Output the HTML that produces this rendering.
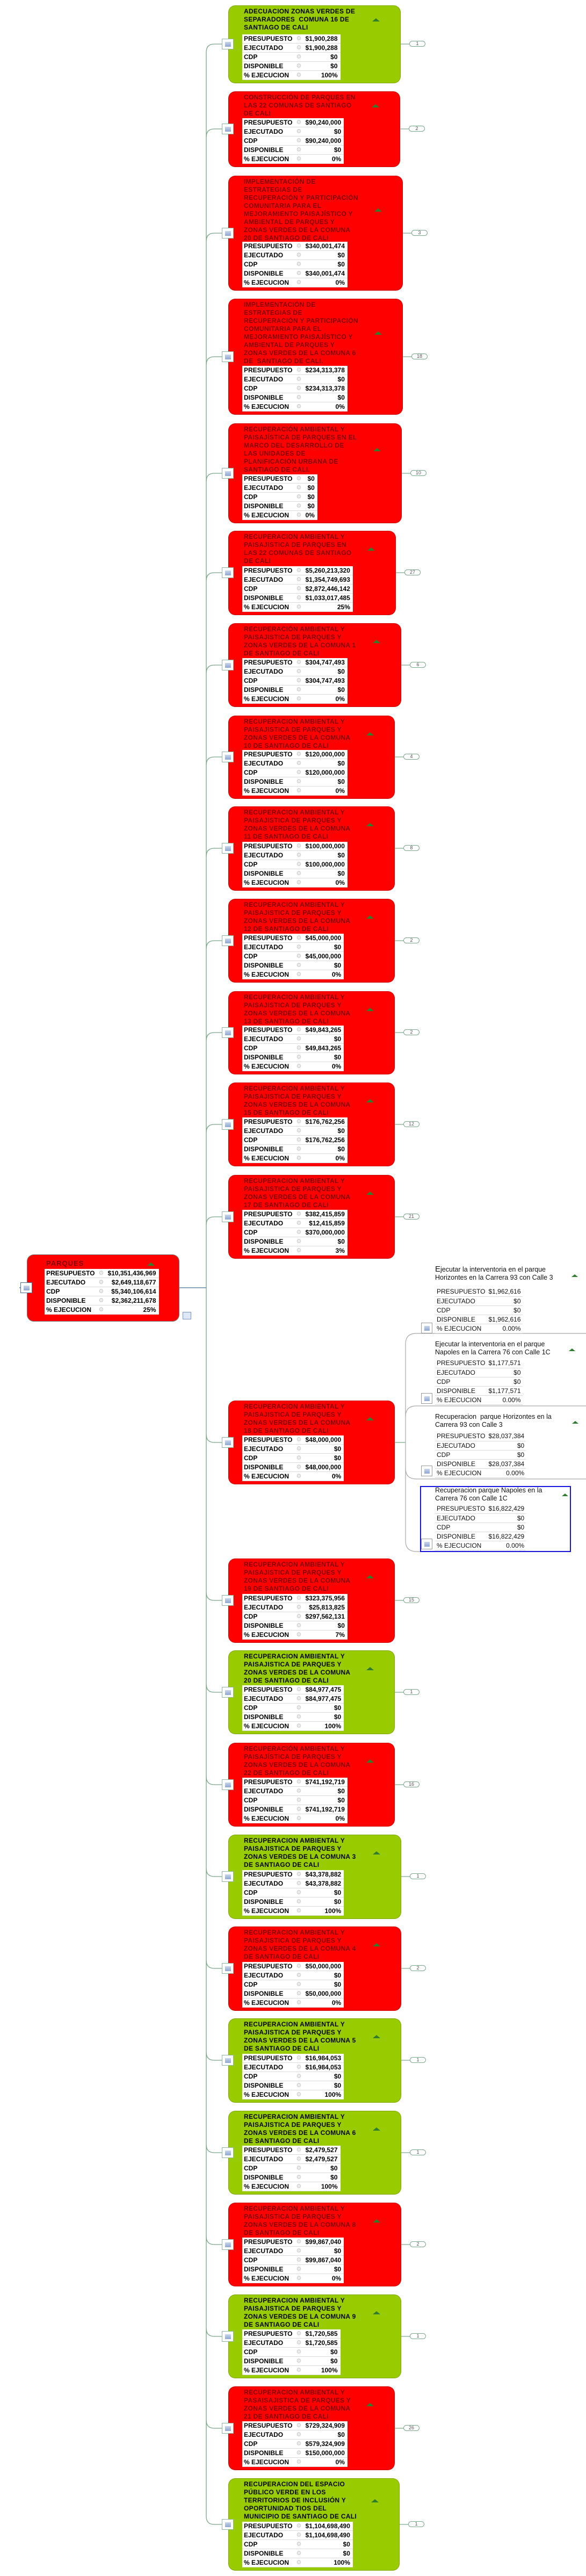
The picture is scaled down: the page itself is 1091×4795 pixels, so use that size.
<!DOCTYPE html>
<html><head><meta charset="utf-8">
<style>
*{margin:0;padding:0;box-sizing:border-box}
body{width:1091px;height:4795px;position:relative;background:#fff;overflow:hidden;font-family:"Liberation Sans",Arial,sans-serif}
.c{position:absolute;left:425px;border-radius:13px;border:1px solid rgba(0,0,0,0.18)}
.r{background:#ff0000}.g{background:#99cc00}
.t{position:absolute;left:28px;right:0;top:3px;font:bold 12px/15px "Liberation Sans",sans-serif;letter-spacing:0.3px;white-space:nowrap}
.r .t{color:#800000}.g .t{color:#000}
.tri{position:absolute;right:38px;top:50%;width:0;height:0;border-left:7px solid transparent;border-right:7px solid transparent;border-bottom:6px solid #2f7d2f;margin-top:-3px}
.tb{position:absolute;left:25px;bottom:5px;background:#fff;border-collapse:collapse;font:bold 12px "Liberation Sans",sans-serif;color:#000}
.tb td{height:17px;padding:0 3px;border-bottom:1px solid #ddd;line-height:16px;white-space:nowrap}
.tb td.l{width:90px}
.tb td.gg{width:18px;color:#c4c4c4;text-align:center;font-size:11px;font-family:"DejaVu Sans",sans-serif}
.tb td.v{text-align:right;padding-right:5px}
.ic{position:absolute;left:413px;width:22px;height:20px;border:1px solid #8fb5a0;background:#fff}
.ic:after{content:"";position:absolute;left:5px;top:5px;width:11px;height:9px;background:linear-gradient(#c9d6ec,#8ea6cf)}
.pill{position:absolute;width:30px;height:11px;border:1px solid #7aa78a;border-radius:6px;font:9px/9px "Liberation Sans",sans-serif;text-align:center;color:#555;background:#fff}
.ch{position:absolute;left:810px;font:12.5px/15px "Liberation Sans",sans-serif;color:#111;white-space:nowrap}
.ct{position:absolute;left:810px;border-collapse:collapse;font:12px "Liberation Sans",sans-serif;color:#111}
.ct td{height:17px;padding:0 3px;border-bottom:1px solid #ddd;white-space:nowrap}
.ct td.v{text-align:right}
.ci{position:absolute;left:784px;width:21px;height:20px;border:1px solid #999;background:#fff}
.ci:after{content:"";position:absolute;left:5px;top:5px;width:10px;height:9px;background:linear-gradient(#c9d6ec,#8ea6cf)}
.ctri{position:absolute;width:0;height:0;border-left:6px solid transparent;border-right:6px solid transparent;border-bottom:5px solid #2f7d2f}
</style></head><body>

<svg width="1091" height="4795" style="position:absolute;left:0;top:0" fill="none">
<g stroke="#7aa78a" stroke-width="1.3">
<line x1="384" y1="97" x2="384" y2="4684"/>
<path d="M384 97 Q384 82 399 82 L413 82"/>
<path d="M384 255 Q384 240 399 240 L413 240"/>
<path d="M384 449 Q384 434 399 434 L413 434"/>
<path d="M384 679 Q384 664 399 664 L413 664"/>
<path d="M384 896 Q384 881 399 881 L413 881"/>
<path d="M384 1081 Q384 1066 399 1066 L413 1066"/>
<path d="M384 1253 Q384 1238 399 1238 L413 1238"/>
<path d="M384 1424 Q384 1409 399 1409 L413 1409"/>
<path d="M384 1594 Q384 1579 399 1579 L413 1579"/>
<path d="M384 1766 Q384 1751 399 1751 L413 1751"/>
<path d="M384 1937 Q384 1922 399 1922 L413 1922"/>
<path d="M384 2108 Q384 2093 399 2093 L413 2093"/>
<path d="M384 2280 Q384 2265 399 2265 L413 2265"/>
<path d="M384 2670 Q384 2685 399 2685 L413 2685"/>
<path d="M384 2964 Q384 2979 399 2979 L413 2979"/>
<path d="M384 3135 Q384 3150 399 3150 L413 3150"/>
<path d="M384 3307 Q384 3322 399 3322 L413 3322"/>
<path d="M384 3478 Q384 3493 399 3493 L413 3493"/>
<path d="M384 3649 Q384 3664 399 3664 L413 3664"/>
<path d="M384 3820 Q384 3835 399 3835 L413 3835"/>
<path d="M384 3992 Q384 4007 399 4007 L413 4007"/>
<path d="M384 4163 Q384 4178 399 4178 L413 4178"/>
<path d="M384 4334 Q384 4349 399 4349 L413 4349"/>
<path d="M384 4505 Q384 4520 399 4520 L413 4520"/>
<path d="M384 4684 Q384 4699 399 4699 L413 4699"/>
<line x1="735" y1="2685" x2="755" y2="2685"/>
</g>
<line x1="334" y1="2397" x2="384" y2="2397" stroke="#4a6f8f" stroke-width="1.3"/>
<line x1="36" y1="2397" x2="40" y2="2397" stroke="#4a6f8f" stroke-width="1.3"/>
<g stroke="#a8a8a8" stroke-width="1.2">
<path d="M1091 2482 L775 2482 Q755 2482 755 2502 L755 2868 Q755 2888 775 2888 L782 2888"/>
<path d="M1091 2617 L775 2617 Q755 2617 755 2637"/>
<path d="M755 2733 Q755 2753 775 2753 L1091 2753"/>
</g>
<g stroke="#7aa78a" stroke-width="1.2">
<line x1="746" y1="82" x2="762" y2="82"/><line x1="745" y1="240" x2="761" y2="240"/>
<line x1="750" y1="434" x2="766" y2="434"/><line x1="750" y1="664" x2="766" y2="664"/>
<line x1="748" y1="881" x2="764" y2="881"/><line x1="737" y1="1066" x2="753" y2="1066"/>
<line x1="747" y1="1238" x2="763" y2="1238"/>
<line x1="735" y1="1409" x2="751" y2="1409"/><line x1="735" y1="1579" x2="751" y2="1579"/>
<line x1="735" y1="1751" x2="751" y2="1751"/><line x1="735" y1="1922" x2="751" y2="1922"/>
<line x1="735" y1="2093" x2="751" y2="2093"/><line x1="735" y1="2265" x2="751" y2="2265"/>
<line x1="735" y1="2979" x2="751" y2="2979"/><line x1="735" y1="3150" x2="751" y2="3150"/>
<line x1="735" y1="3322" x2="751" y2="3322"/>
<line x1="747" y1="3493" x2="763" y2="3493"/><line x1="747" y1="3664" x2="763" y2="3664"/>
<line x1="747" y1="3835" x2="763" y2="3835"/><line x1="747" y1="4007" x2="763" y2="4007"/>
<line x1="747" y1="4178" x2="763" y2="4178"/><line x1="747" y1="4349" x2="763" y2="4349"/>
<line x1="735" y1="4520" x2="751" y2="4520"/><line x1="744" y1="4699" x2="760" y2="4699"/>
</g>
</svg>

<!-- ROOT -->
<div class="c r" style="left:50px;top:2335px;width:284px;height:125px;border-color:#777">
 <div class="t" style="left:35px;top:8px;font-size:13px;letter-spacing:1px">PARQUES</div>
 <span class="tri" style="right:45px;top:17px"></span>
 <table class="tb" style="left:32px;bottom:12px"><tr><td class="l">PRESUPUESTO</td><td class="gg">⚙</td><td class="v">$10,351,436,969</td></tr><tr><td class="l">EJECUTADO</td><td class="gg">⚙</td><td class="v">$2,649,118,677</td></tr><tr><td class="l">CDP</td><td class="gg">⚙</td><td class="v">$5,340,106,614</td></tr><tr><td class="l">DISPONIBLE</td><td class="gg">⚙</td><td class="v">$2,362,211,678</td></tr><tr><td class="l">% EJECUCION</td><td class="gg">⚙</td><td class="v">25%</td></tr></table>
</div>
<div class="ic" style="left:38px;top:2387px;border-color:#4a6f9f"></div>
<div style="position:absolute;left:340px;top:2442px;width:16px;height:14px;border:1px solid #7a93c0;background:#dfe8f6"></div>

<!-- CARDS -->
<div class="c g" style="top:10px;height:145px;width:321px"><div class="t">ADECUACION ZONAS VERDES DE<br>SEPARADORES&nbsp; COMUNA 16 DE<br>SANTIAGO DE CALI<span class="tri"></span></div>
<table class="tb"><tr><td class="l">PRESUPUESTO</td><td class="gg">⚙</td><td class="v">$1,900,288</td></tr><tr><td class="l">EJECUTADO</td><td class="gg">⚙</td><td class="v">$1,900,288</td></tr><tr><td class="l">CDP</td><td class="gg">⚙</td><td class="v">$0</td></tr><tr><td class="l">DISPONIBLE</td><td class="gg">⚙</td><td class="v">$0</td></tr><tr><td class="l">% EJECUCION</td><td class="gg">⚙</td><td class="v">100%</td></tr></table></div>
<div class="ic" style="top:72px"></div><div class="pill" style="left:762px;top:76px">1</div>

<div class="c r" style="top:170px;height:141px;width:320px"><div class="t">CONSTRUCCIÓN DE PARQUES EN<br>LAS 22 COMUNAS DE SANTIAGO<br>DE CALI<span class="tri"></span></div>
<table class="tb"><tr><td class="l">PRESUPUESTO</td><td class="gg">⚙</td><td class="v">$90,240,000</td></tr><tr><td class="l">EJECUTADO</td><td class="gg">⚙</td><td class="v">$0</td></tr><tr><td class="l">CDP</td><td class="gg">⚙</td><td class="v">$90,240,000</td></tr><tr><td class="l">DISPONIBLE</td><td class="gg">⚙</td><td class="v">$0</td></tr><tr><td class="l">% EJECUCION</td><td class="gg">⚙</td><td class="v">0%</td></tr></table></div>
<div class="ic" style="top:230px"></div><div class="pill" style="left:761px;top:234px">2</div>

<div class="c r" style="top:327px;height:214px;width:325px"><div class="t">IMPLEMENTACIÓN DE<br>ESTRATEGIAS DE<br>RECUPERACIÓN Y PARTICIPACIÓN<br>COMUNITARIA PARA EL<br>MEJORAMIENTO PAISAJÍSTICO Y<br>AMBIENTAL DE PARQUES Y<br>ZONAS VERDES DE LA COMUNA<br>20 DE SANTIAGO DE CALI<span class="tri"></span></div>
<table class="tb"><tr><td class="l">PRESUPUESTO</td><td class="gg">⚙</td><td class="v">$340,001,474</td></tr><tr><td class="l">EJECUTADO</td><td class="gg">⚙</td><td class="v">$0</td></tr><tr><td class="l">CDP</td><td class="gg">⚙</td><td class="v">$0</td></tr><tr><td class="l">DISPONIBLE</td><td class="gg">⚙</td><td class="v">$340,001,474</td></tr><tr><td class="l">% EJECUCION</td><td class="gg">⚙</td><td class="v">0%</td></tr></table></div>
<div class="ic" style="top:424px"></div><div class="pill" style="left:766px;top:428px">3</div>

<div class="c r" style="top:556px;height:216px;width:325px"><div class="t">IMPLEMENTACIÓN DE<br>ESTRATEGIAS DE<br>RECUPERACIÓN Y PARTICIPACIÓN<br>COMUNITARIA PARA EL<br>MEJORAMIENTO PAISAJÍSTICO Y<br>AMBIENTAL DE PARQUES Y<br>ZONAS VERDES DE LA COMUNA 6<br>DE&nbsp; SANTIAGO DE CALI.<span class="tri"></span></div>
<table class="tb"><tr><td class="l">PRESUPUESTO</td><td class="gg">⚙</td><td class="v">$234,313,378</td></tr><tr><td class="l">EJECUTADO</td><td class="gg">⚙</td><td class="v">$0</td></tr><tr><td class="l">CDP</td><td class="gg">⚙</td><td class="v">$234,313,378</td></tr><tr><td class="l">DISPONIBLE</td><td class="gg">⚙</td><td class="v">$0</td></tr><tr><td class="l">% EJECUCION</td><td class="gg">⚙</td><td class="v">0%</td></tr></table></div>
<div class="ic" style="top:654px"></div><div class="pill" style="left:766px;top:658px">18</div>

<div class="c r" style="top:788px;height:186px;width:323px"><div class="t">RECUPERACIÓN AMBIENTAL Y<br>PAISAJÍSTICA DE PARQUES EN EL<br>MARCO DEL DESARROLLO DE<br>LAS UNIDADES DE<br>PLANIFICACIÓN URBANA DE<br>SANTIAGO DE CALI.<span class="tri"></span></div>
<table class="tb"><tr><td class="l">PRESUPUESTO</td><td class="gg">⚙</td><td class="v">$0</td></tr><tr><td class="l">EJECUTADO</td><td class="gg">⚙</td><td class="v">$0</td></tr><tr><td class="l">CDP</td><td class="gg">⚙</td><td class="v">$0</td></tr><tr><td class="l">DISPONIBLE</td><td class="gg">⚙</td><td class="v">$0</td></tr><tr><td class="l">% EJECUCION</td><td class="gg">⚙</td><td class="v">0%</td></tr></table></div>
<div class="ic" style="top:871px"></div><div class="pill" style="left:764px;top:875px">10</div>

<div class="c r" style="top:988px;height:157px;width:312px"><div class="t">RECUPERACION AMBIENTAL Y<br>PAISAJISTICA DE PARQUES EN<br>LAS 22 COMUNAS DE SANTIAGO<br>DE CALI<span class="tri"></span></div>
<table class="tb"><tr><td class="l">PRESUPUESTO</td><td class="gg">⚙</td><td class="v">$5,260,213,320</td></tr><tr><td class="l">EJECUTADO</td><td class="gg">⚙</td><td class="v">$1,354,749,693</td></tr><tr><td class="l">CDP</td><td class="gg">⚙</td><td class="v">$2,872,446,142</td></tr><tr><td class="l">DISPONIBLE</td><td class="gg">⚙</td><td class="v">$1,033,017,485</td></tr><tr><td class="l">% EJECUCION</td><td class="gg">⚙</td><td class="v">25%</td></tr></table></div>
<div class="ic" style="top:1056px"></div><div class="pill" style="left:753px;top:1060px">27</div>

<div class="c r" style="top:1160px;height:156px;width:322px"><div class="t">RECUPERACIÓN AMBIENTAL Y<br>PAISAJISTICA DE PARQUES Y<br>ZONAS VERDES DE LA COMUNA 1<br>DE SANTIAGO DE CALI<span class="tri"></span></div>
<table class="tb"><tr><td class="l">PRESUPUESTO</td><td class="gg">⚙</td><td class="v">$304,747,493</td></tr><tr><td class="l">EJECUTADO</td><td class="gg">⚙</td><td class="v">$0</td></tr><tr><td class="l">CDP</td><td class="gg">⚙</td><td class="v">$304,747,493</td></tr><tr><td class="l">DISPONIBLE</td><td class="gg">⚙</td><td class="v">$0</td></tr><tr><td class="l">% EJECUCION</td><td class="gg">⚙</td><td class="v">0%</td></tr></table></div>
<div class="ic" style="top:1228px"></div><div class="pill" style="left:763px;top:1232px">6</div>

<div class="c r" style="top:1332px;height:155px;width:310px"><div class="t">RECUPERACION AMBIENTAL Y<br>PAISAJISTICA DE PARQUES Y<br>ZONAS VERDES DE LA COMUNA<br>10 DE SANTIAGO DE CALI<span class="tri"></span></div>
<table class="tb"><tr><td class="l">PRESUPUESTO</td><td class="gg">⚙</td><td class="v">$120,000,000</td></tr><tr><td class="l">EJECUTADO</td><td class="gg">⚙</td><td class="v">$0</td></tr><tr><td class="l">CDP</td><td class="gg">⚙</td><td class="v">$120,000,000</td></tr><tr><td class="l">DISPONIBLE</td><td class="gg">⚙</td><td class="v">$0</td></tr><tr><td class="l">% EJECUCION</td><td class="gg">⚙</td><td class="v">0%</td></tr></table></div>
<div class="ic" style="top:1399px"></div><div class="pill" style="left:751px;top:1403px">4</div>

<div class="c r" style="top:1501px;height:157px;width:310px"><div class="t">RECUPERACION AMBIENTAL Y<br>PAISAJISTICA DE PARQUES Y<br>ZONAS VERDES DE LA COMUNA<br>11 DE SANTIAGO DE CALI<span class="tri"></span></div>
<table class="tb"><tr><td class="l">PRESUPUESTO</td><td class="gg">⚙</td><td class="v">$100,000,000</td></tr><tr><td class="l">EJECUTADO</td><td class="gg">⚙</td><td class="v">$0</td></tr><tr><td class="l">CDP</td><td class="gg">⚙</td><td class="v">$100,000,000</td></tr><tr><td class="l">DISPONIBLE</td><td class="gg">⚙</td><td class="v">$0</td></tr><tr><td class="l">% EJECUCION</td><td class="gg">⚙</td><td class="v">0%</td></tr></table></div>
<div class="ic" style="top:1569px"></div><div class="pill" style="left:751px;top:1573px">8</div>

<div class="c r" style="top:1673px;height:156px;width:310px"><div class="t">RECUPERACION AMBIENTAL Y<br>PAISAJISTICA DE PARQUES Y<br>ZONAS VERDES DE LA COMUNA<br>12 DE SANTIAGO DE CALI<span class="tri"></span></div>
<table class="tb"><tr><td class="l">PRESUPUESTO</td><td class="gg">⚙</td><td class="v">$45,000,000</td></tr><tr><td class="l">EJECUTADO</td><td class="gg">⚙</td><td class="v">$0</td></tr><tr><td class="l">CDP</td><td class="gg">⚙</td><td class="v">$45,000,000</td></tr><tr><td class="l">DISPONIBLE</td><td class="gg">⚙</td><td class="v">$0</td></tr><tr><td class="l">% EJECUCION</td><td class="gg">⚙</td><td class="v">0%</td></tr></table></div>
<div class="ic" style="top:1741px"></div><div class="pill" style="left:751px;top:1745px">2</div>

<div class="c r" style="top:1845px;height:155px;width:310px"><div class="t">RECUPERACION AMBIENTAL Y<br>PAISAJISTICA DE PARQUES Y<br>ZONAS VERDES DE LA COMUNA<br>13 DE SANTIAGO DE CALI<span class="tri"></span></div>
<table class="tb"><tr><td class="l">PRESUPUESTO</td><td class="gg">⚙</td><td class="v">$49,843,265</td></tr><tr><td class="l">EJECUTADO</td><td class="gg">⚙</td><td class="v">$0</td></tr><tr><td class="l">CDP</td><td class="gg">⚙</td><td class="v">$49,843,265</td></tr><tr><td class="l">DISPONIBLE</td><td class="gg">⚙</td><td class="v">$0</td></tr><tr><td class="l">% EJECUCION</td><td class="gg">⚙</td><td class="v">0%</td></tr></table></div>
<div class="ic" style="top:1912px"></div><div class="pill" style="left:751px;top:1916px">2</div>

<div class="c r" style="top:2015px;height:156px;width:310px"><div class="t">RECUPERACION AMBIENTAL Y<br>PAISAJISTICA DE PARQUES Y<br>ZONAS VERDES DE LA COMUNA<br>15 DE SANTIAGO DE CALI<span class="tri"></span></div>
<table class="tb"><tr><td class="l">PRESUPUESTO</td><td class="gg">⚙</td><td class="v">$176,762,256</td></tr><tr><td class="l">EJECUTADO</td><td class="gg">⚙</td><td class="v">$0</td></tr><tr><td class="l">CDP</td><td class="gg">⚙</td><td class="v">$176,762,256</td></tr><tr><td class="l">DISPONIBLE</td><td class="gg">⚙</td><td class="v">$0</td></tr><tr><td class="l">% EJECUCION</td><td class="gg">⚙</td><td class="v">0%</td></tr></table></div>
<div class="ic" style="top:2083px"></div><div class="pill" style="left:751px;top:2087px">12</div>

<div class="c r" style="top:2187px;height:156px;width:310px"><div class="t">RECUPERACION AMBIENTAL Y<br>PAISAJISTICA DE PARQUES Y<br>ZONAS VERDES DE LA COMUNA<br>17 DE SANTIAGO DE CALI<span class="tri"></span></div>
<table class="tb"><tr><td class="l">PRESUPUESTO</td><td class="gg">⚙</td><td class="v">$382,415,859</td></tr><tr><td class="l">EJECUTADO</td><td class="gg">⚙</td><td class="v">$12,415,859</td></tr><tr><td class="l">CDP</td><td class="gg">⚙</td><td class="v">$370,000,000</td></tr><tr><td class="l">DISPONIBLE</td><td class="gg">⚙</td><td class="v">$0</td></tr><tr><td class="l">% EJECUCION</td><td class="gg">⚙</td><td class="v">3%</td></tr></table></div>
<div class="ic" style="top:2255px"></div><div class="pill" style="left:751px;top:2259px">21</div>

<div class="c r" style="top:2607px;height:156px;width:310px"><div class="t">RECUPERACION AMBIENTAL Y<br>PAISAJISTICA DE PARQUES Y<br>ZONAS VERDES DE LA COMUNA<br>18 DE SANTIAGO DE CALI<span class="tri"></span></div>
<table class="tb"><tr><td class="l">PRESUPUESTO</td><td class="gg">⚙</td><td class="v">$48,000,000</td></tr><tr><td class="l">EJECUTADO</td><td class="gg">⚙</td><td class="v">$0</td></tr><tr><td class="l">CDP</td><td class="gg">⚙</td><td class="v">$0</td></tr><tr><td class="l">DISPONIBLE</td><td class="gg">⚙</td><td class="v">$48,000,000</td></tr><tr><td class="l">% EJECUCION</td><td class="gg">⚙</td><td class="v">0%</td></tr></table></div>
<div class="ic" style="top:2675px"></div>

<div class="c r" style="top:2901px;height:157px;width:310px"><div class="t">RECUPERACION AMBIENTAL Y<br>PAISAJISTICA DE PARQUES Y<br>ZONAS VERDES DE LA COMUNA<br>19 DE SANTIAGO DE CALI<span class="tri"></span></div>
<table class="tb"><tr><td class="l">PRESUPUESTO</td><td class="gg">⚙</td><td class="v">$323,375,956</td></tr><tr><td class="l">EJECUTADO</td><td class="gg">⚙</td><td class="v">$25,813,825</td></tr><tr><td class="l">CDP</td><td class="gg">⚙</td><td class="v">$297,562,131</td></tr><tr><td class="l">DISPONIBLE</td><td class="gg">⚙</td><td class="v">$0</td></tr><tr><td class="l">% EJECUCION</td><td class="gg">⚙</td><td class="v">7%</td></tr></table></div>
<div class="ic" style="top:2969px"></div><div class="pill" style="left:751px;top:2973px">15</div>

<div class="c g" style="top:3072px;height:156px;width:310px"><div class="t">RECUPERACION AMBIENTAL Y<br>PAISAJISTICA DE PARQUES Y<br>ZONAS VERDES DE LA COMUNA<br>20 DE SANTIAGO DE CALI<span class="tri"></span></div>
<table class="tb"><tr><td class="l">PRESUPUESTO</td><td class="gg">⚙</td><td class="v">$84,977,475</td></tr><tr><td class="l">EJECUTADO</td><td class="gg">⚙</td><td class="v">$84,977,475</td></tr><tr><td class="l">CDP</td><td class="gg">⚙</td><td class="v">$0</td></tr><tr><td class="l">DISPONIBLE</td><td class="gg">⚙</td><td class="v">$0</td></tr><tr><td class="l">% EJECUCION</td><td class="gg">⚙</td><td class="v">100%</td></tr></table></div>
<div class="ic" style="top:3140px"></div><div class="pill" style="left:751px;top:3144px">1</div>

<div class="c r" style="top:3244px;height:156px;width:310px"><div class="t">RECUPERACIÓN AMBIENTAL Y<br>PAISAJÍSTICA DE PARQUES Y<br>ZONAS VERDES DE LA COMUNA<br>22 DE SANTIAGO DE CALI<span class="tri"></span></div>
<table class="tb"><tr><td class="l">PRESUPUESTO</td><td class="gg">⚙</td><td class="v">$741,192,719</td></tr><tr><td class="l">EJECUTADO</td><td class="gg">⚙</td><td class="v">$0</td></tr><tr><td class="l">CDP</td><td class="gg">⚙</td><td class="v">$0</td></tr><tr><td class="l">DISPONIBLE</td><td class="gg">⚙</td><td class="v">$741,192,719</td></tr><tr><td class="l">% EJECUCION</td><td class="gg">⚙</td><td class="v">0%</td></tr></table></div>
<div class="ic" style="top:3312px"></div><div class="pill" style="left:751px;top:3316px">16</div>

<div class="c g" style="top:3415px;height:157px;width:322px"><div class="t">RECUPERACION AMBIENTAL Y<br>PAISAJISTICA DE PARQUES Y<br>ZONAS VERDES DE LA COMUNA 3<br>DE SANTIAGO DE CALI<span class="tri"></span></div>
<table class="tb"><tr><td class="l">PRESUPUESTO</td><td class="gg">⚙</td><td class="v">$43,378,882</td></tr><tr><td class="l">EJECUTADO</td><td class="gg">⚙</td><td class="v">$43,378,882</td></tr><tr><td class="l">CDP</td><td class="gg">⚙</td><td class="v">$0</td></tr><tr><td class="l">DISPONIBLE</td><td class="gg">⚙</td><td class="v">$0</td></tr><tr><td class="l">% EJECUCION</td><td class="gg">⚙</td><td class="v">100%</td></tr></table></div>
<div class="ic" style="top:3483px"></div><div class="pill" style="left:763px;top:3487px">1</div>

<div class="c r" style="top:3586px;height:157px;width:322px"><div class="t">RECUPERACION AMBIENTAL Y<br>PAISAJISTICA DE PARQUES Y<br>ZONAS VERDES DE LA COMUNA 4<br>DE SANTIAGO DE CALI<span class="tri"></span></div>
<table class="tb"><tr><td class="l">PRESUPUESTO</td><td class="gg">⚙</td><td class="v">$50,000,000</td></tr><tr><td class="l">EJECUTADO</td><td class="gg">⚙</td><td class="v">$0</td></tr><tr><td class="l">CDP</td><td class="gg">⚙</td><td class="v">$0</td></tr><tr><td class="l">DISPONIBLE</td><td class="gg">⚙</td><td class="v">$50,000,000</td></tr><tr><td class="l">% EJECUCION</td><td class="gg">⚙</td><td class="v">0%</td></tr></table></div>
<div class="ic" style="top:3654px"></div><div class="pill" style="left:763px;top:3658px">2</div>

<div class="c g" style="top:3757px;height:157px;width:322px"><div class="t">RECUPERACION AMBIENTAL Y<br>PAISAJISTICA DE PARQUES Y<br>ZONAS VERDES DE LA COMUNA 5<br>DE SANTIAGO DE CALI<span class="tri"></span></div>
<table class="tb"><tr><td class="l">PRESUPUESTO</td><td class="gg">⚙</td><td class="v">$16,984,053</td></tr><tr><td class="l">EJECUTADO</td><td class="gg">⚙</td><td class="v">$16,984,053</td></tr><tr><td class="l">CDP</td><td class="gg">⚙</td><td class="v">$0</td></tr><tr><td class="l">DISPONIBLE</td><td class="gg">⚙</td><td class="v">$0</td></tr><tr><td class="l">% EJECUCION</td><td class="gg">⚙</td><td class="v">100%</td></tr></table></div>
<div class="ic" style="top:3825px"></div><div class="pill" style="left:763px;top:3829px">1</div>

<div class="c g" style="top:3929px;height:156px;width:322px"><div class="t">RECUPERACION AMBIENTAL Y<br>PAISAJISTICA DE PARQUES Y<br>ZONAS VERDES DE LA COMUNA 6<br>DE SANTIAGO DE CALI<span class="tri"></span></div>
<table class="tb"><tr><td class="l">PRESUPUESTO</td><td class="gg">⚙</td><td class="v">$2,479,527</td></tr><tr><td class="l">EJECUTADO</td><td class="gg">⚙</td><td class="v">$2,479,527</td></tr><tr><td class="l">CDP</td><td class="gg">⚙</td><td class="v">$0</td></tr><tr><td class="l">DISPONIBLE</td><td class="gg">⚙</td><td class="v">$0</td></tr><tr><td class="l">% EJECUCION</td><td class="gg">⚙</td><td class="v">100%</td></tr></table></div>
<div class="ic" style="top:3997px"></div><div class="pill" style="left:763px;top:4001px">1</div>

<div class="c r" style="top:4100px;height:156px;width:322px"><div class="t">RECUPERACION AMBIENTAL Y<br>PAISAJISTICA DE PARQUES Y<br>ZONAS VERDES DE LA COMUNA 8<br>DE SANTIAGO DE CALI<span class="tri"></span></div>
<table class="tb"><tr><td class="l">PRESUPUESTO</td><td class="gg">⚙</td><td class="v">$99,867,040</td></tr><tr><td class="l">EJECUTADO</td><td class="gg">⚙</td><td class="v">$0</td></tr><tr><td class="l">CDP</td><td class="gg">⚙</td><td class="v">$99,867,040</td></tr><tr><td class="l">DISPONIBLE</td><td class="gg">⚙</td><td class="v">$0</td></tr><tr><td class="l">% EJECUCION</td><td class="gg">⚙</td><td class="v">0%</td></tr></table></div>
<div class="ic" style="top:4168px"></div><div class="pill" style="left:763px;top:4172px">2</div>

<div class="c g" style="top:4271px;height:156px;width:322px"><div class="t">RECUPERACION AMBIENTAL Y<br>PAISAJISTICA DE PARQUES Y<br>ZONAS VERDES DE LA COMUNA 9<br>DE SANTIAGO DE CALI<span class="tri"></span></div>
<table class="tb"><tr><td class="l">PRESUPUESTO</td><td class="gg">⚙</td><td class="v">$1,720,585</td></tr><tr><td class="l">EJECUTADO</td><td class="gg">⚙</td><td class="v">$1,720,585</td></tr><tr><td class="l">CDP</td><td class="gg">⚙</td><td class="v">$0</td></tr><tr><td class="l">DISPONIBLE</td><td class="gg">⚙</td><td class="v">$0</td></tr><tr><td class="l">% EJECUCION</td><td class="gg">⚙</td><td class="v">100%</td></tr></table></div>
<div class="ic" style="top:4339px"></div><div class="pill" style="left:763px;top:4343px">1</div>

<div class="c r" style="top:4442px;height:156px;width:310px"><div class="t">RECUPERACION AMBIENTAL Y<br>PASAISAJISTICA DE PARQUES Y<br>ZONAS VERDES DE LA COMUNA<br>21 DE SANTIAGO DE CALI<span class="tri"></span></div>
<table class="tb"><tr><td class="l">PRESUPUESTO</td><td class="gg">⚙</td><td class="v">$729,324,909</td></tr><tr><td class="l">EJECUTADO</td><td class="gg">⚙</td><td class="v">$0</td></tr><tr><td class="l">CDP</td><td class="gg">⚙</td><td class="v">$579,324,909</td></tr><tr><td class="l">DISPONIBLE</td><td class="gg">⚙</td><td class="v">$150,000,000</td></tr><tr><td class="l">% EJECUCION</td><td class="gg">⚙</td><td class="v">0%</td></tr></table></div>
<div class="ic" style="top:4510px"></div><div class="pill" style="left:751px;top:4514px">26</div>

<div class="c g" style="top:4613px;height:172px;width:319px"><div class="t">RECUPERACION DEL ESPACIO<br>PÚBLICO VERDE EN LOS<br>TERRITORIOS DE INCLUSIÓN Y<br>OPORTUNIDAD TIOS DEL<br>MUNICIPIO DE SANTIAGO DE CALI<span class="tri"></span></div>
<table class="tb"><tr><td class="l">PRESUPUESTO</td><td class="gg">⚙</td><td class="v">$1,104,698,490</td></tr><tr><td class="l">EJECUTADO</td><td class="gg">⚙</td><td class="v">$1,104,698,490</td></tr><tr><td class="l">CDP</td><td class="gg">⚙</td><td class="v">$0</td></tr><tr><td class="l">DISPONIBLE</td><td class="gg">⚙</td><td class="v">$0</td></tr><tr><td class="l">% EJECUCION</td><td class="gg">⚙</td><td class="v">100%</td></tr></table></div>
<div class="ic" style="top:4689px"></div><div class="pill" style="left:760px;top:4693px">1</div>

<!-- CHILDREN of comuna 18 -->
<div class="ch" style="top:2355px"><span style="font-size:15px">E</span>jecutar la interventoria en el parque<br>Horizontes en la Carrera 93 con Calle 3</div>
<span class="ctri" style="left:1064px;top:2372px"></span>
<table class="ct" style="top:2396px"><tr><td>PRESUPUESTO</td><td class="v">$1,962,616</td></tr><tr><td>EJECUTADO</td><td class="v">$0</td></tr><tr><td>CDP</td><td class="v">$0</td></tr><tr><td>DISPONIBLE</td><td class="v">$1,962,616</td></tr><tr><td>% EJECUCION</td><td class="v">0.00%</td></tr></table>
<div class="ci" style="top:2462px"></div>

<div class="ch" style="top:2495px">Ejecutar la interventoria en el parque<br>Napoles en la Carrera 76 con Calle 1C</div>
<span class="ctri" style="left:1059px;top:2510px"></span>
<table class="ct" style="top:2529px"><tr><td>PRESUPUESTO</td><td class="v">$1,177,571</td></tr><tr><td>EJECUTADO</td><td class="v">$0</td></tr><tr><td>CDP</td><td class="v">$0</td></tr><tr><td>DISPONIBLE</td><td class="v">$1,177,571</td></tr><tr><td>% EJECUCION</td><td class="v">0.00%</td></tr></table>
<div class="ci" style="top:2593px"></div>

<div class="ch" style="top:2630px">Recuperacion&nbsp; parque Horizontes en la<br>Carrera 93 con Calle 3</div>
<span class="ctri" style="left:1065px;top:2645px"></span>
<table class="ct" style="top:2665px"><tr><td>PRESUPUESTO</td><td class="v">$28,037,384</td></tr><tr><td>EJECUTADO</td><td class="v">$0</td></tr><tr><td>CDP</td><td class="v">$0</td></tr><tr><td>DISPONIBLE</td><td class="v">$28,037,384</td></tr><tr><td>% EJECUCION</td><td class="v">0.00%</td></tr></table>
<div class="ci" style="top:2728px"></div>

<div style="position:absolute;left:782px;top:2766px;width:281px;height:123px;border:2px solid #1515dd"></div>
<div class="ch" style="top:2767px">Recuperacion parque Napoles en la<br>Carrera 76 con Calle 1C</div>
<span class="ctri" style="left:1046px;top:2780px"></span>
<table class="ct" style="top:2800px"><tr><td>PRESUPUESTO</td><td class="v">$16,822,429</td></tr><tr><td>EJECUTADO</td><td class="v">$0</td></tr><tr><td>CDP</td><td class="v">$0</td></tr><tr><td>DISPONIBLE</td><td class="v">$16,822,429</td></tr><tr><td>% EJECUCION</td><td class="v">0.00%</td></tr></table>
<div class="ci" style="top:2864px"></div>

</body></html>
